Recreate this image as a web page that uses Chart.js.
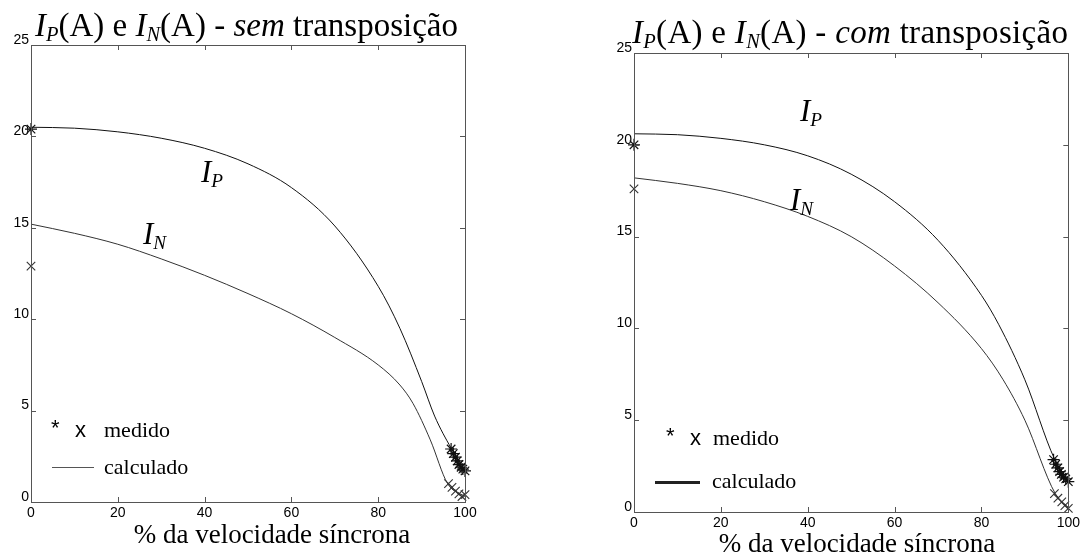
<!DOCTYPE html>
<html>
<head>
<meta charset="utf-8">
<script src="https://cdn.jsdelivr.net/npm/chart.js@4/dist/chart.umd.min.js"></script>
<style>
  html, body { margin: 0; padding: 0; background: #fff; }
  #wrap { position: relative; width: 1083px; height: 557px; overflow: hidden; background: #fff; }
  canvas { position: absolute; top: 0; }
  .t { position: absolute; font-family: "Liberation Serif", "DejaVu Serif", serif; color: #000; white-space: nowrap; line-height: 1; }
  .t sub { font-size: 62%; vertical-align: -0.25em; line-height: 0; }
  .ttl { font-size: 33px; }
  .ttl2 { font-size: 33px; letter-spacing: 0.3px; }
  .lbl { font-size: 31px; font-style: italic; }
  .leg { font-size: 22px; }
  .sym { position: absolute; font-family: "Liberation Sans", Arial, sans-serif; font-size: 22px; color: #000; line-height: 1; }
  .xt { font-size: 27px; transform: translateX(-50%); }
  .ln { position: absolute; background: #222; }
</style>
</head>
<body>
<div id="wrap">
  <canvas id="c1" width="540" height="557" style="left:0"></canvas>
  <canvas id="c2" width="543" height="557" style="left:540px"></canvas>

  <div class="t ttl" style="left:35px; top:9px;"><i>I</i><sub><i>P</i></sub>(A) e <i>I</i><sub><i>N</i></sub>(A) - <i>sem</i> transposição</div>
  <div class="t ttl2" style="left:632px; top:16px;"><i>I</i><sub><i>P</i></sub>(A) e <i>I</i><sub><i>N</i></sub>(A) - <i>com</i> transposição</div>

  <div class="t lbl" style="left:201px; top:156px;">I<sub>P</sub></div>
  <div class="t lbl" style="left:143px; top:218px;">I<sub>N</sub></div>
  <div class="t lbl" style="left:800px; top:95px;">I<sub>P</sub></div>
  <div class="t lbl" style="left:790px; top:184px;">I<sub>N</sub></div>

  <div class="sym" style="left:51px; top:417px;">*</div>
  <div class="sym" style="left:75px; top:419px;">x</div>
  <div class="t leg" style="left:104px; top:419px;">medido</div>
  <div class="ln" style="left:52px; top:467px; width:42px; height:1px; background:#555;"></div>
  <div class="t leg" style="left:104px; top:456px;">calculado</div>

  <div class="sym" style="left:666px; top:425px;">*</div>
  <div class="sym" style="left:690px; top:427px;">x</div>
  <div class="t leg" style="left:713px; top:427px;">medido</div>
  <div class="ln" style="left:655px; top:481px; width:45px; height:3px;"></div>
  <div class="t leg" style="left:712px; top:470px;">calculado</div>

  <div class="t xt" style="left:272px; top:521px;">% da velocidade síncrona</div>
  <div class="t xt" style="left:857px; top:530px;">% da velocidade síncrona</div>
</div>
<script>
// ---- sem transposição ----
const semIpCalcX   = [0, 10, 20, 30, 40, 50, 60, 70, 80, 85, 90, 93, 96.8, 100];
const semIpCalc    = [20.5, 20.45, 20.25, 19.9, 19.35, 18.5, 17.2, 15.1, 11.8, 9.5, 6.6, 4.7, 2.95, 1.75];
const semInCalcX   = [0, 10, 20, 30, 40, 50, 60, 70, 80, 85, 88, 92, 96, 100];
const semInCalc    = [15.2, 14.7, 14.1, 13.3, 12.4, 11.4, 10.3, 9.0, 7.5, 6.4, 5.4, 3.4, 1.0, 0.3];
const semIpMeasX   = [0, 96.8, 97.3, 97.8, 98.2, 98.6, 99.1, 99.5, 100];
const semIpMeas    = [20.4, 2.9, 2.65, 2.45, 2.25, 2.05, 1.9, 1.8, 1.7];
const semInMeasX   = [0, 96.2, 97.0, 97.8, 98.6, 99.3, 100];
const semInMeas    = [12.9, 1.0, 0.8, 0.6, 0.45, 0.3, 0.4];

// ---- com transposição ----
const comIpCalcX   = [0, 10, 20, 30, 40, 50, 60, 70, 80, 84, 90, 96.8, 100];
const comIpCalc    = [20.6, 20.55, 20.35, 20.0, 19.4, 18.4, 16.9, 14.8, 11.8, 10.2, 7.2, 2.9, 1.7];
const comInCalcX   = [0, 10, 20, 30, 40, 50, 60, 70, 80, 85, 90, 97, 100];
const comInCalc    = [18.2, 17.9, 17.5, 16.9, 16.1, 15.0, 13.4, 11.4, 8.9, 7.2, 5.0, 1.0, 0.25];
const comIpMeasX   = [0, 96.6, 97.1, 97.6, 98.0, 98.4, 98.9, 99.4, 100];
const comIpMeas    = [20.0, 2.85, 2.6, 2.4, 2.2, 2.05, 1.9, 1.8, 1.65];
const comInMeasX   = [0, 96.8, 97.6, 98.5, 99.2, 100];
const comInMeas    = [17.6, 1.0, 0.75, 0.55, 0.35, 0.2];

const xTicks = [0, 20, 40, 60, 80, 100];
const yTicks = [0, 5, 10, 15, 20, 25];

const pts = (xs, ys) => xs.map((x, i) => ({ x, y: ys[i] }));

// frame box and inward tick marks drawn from the scales
const frameTicks = {
  id: 'frameTicks',
  afterDatasetsDraw(chart) {
    const { ctx, chartArea: a, scales: { x, y } } = chart;
    ctx.save();
    ctx.strokeStyle = '#555';
    ctx.lineWidth = 1;
    ctx.strokeRect(Math.round(a.left) + 0.5, Math.round(a.top) + 0.5,
                   Math.round(a.right - a.left), Math.round(a.bottom - a.top));
    const L = 5;
    ctx.beginPath();
    xTicks.forEach(v => {
      const px = Math.round(x.getPixelForValue(v)) + 0.5;
      ctx.moveTo(px, a.bottom); ctx.lineTo(px, a.bottom - L);
      ctx.moveTo(px, a.top); ctx.lineTo(px, a.top + L);
    });
    yTicks.forEach(v => {
      const py = Math.round(y.getPixelForValue(v)) + 0.5;
      ctx.moveTo(a.left, py); ctx.lineTo(a.left + L, py);
      ctx.moveTo(a.right, py); ctx.lineTo(a.right - L, py);
    });
    ctx.stroke();
    ctx.restore();
  }
};

function makeChart(id, pad, ipC, inC, ipM, inM, lineW) {
  const tickFont = { family: "'Liberation Sans', Arial, sans-serif", size: 14 };
  return new Chart(document.getElementById(id), {
    type: 'line',
    data: {
      datasets: [
        { data: ipC, borderColor: '#111', borderWidth: lineW, pointRadius: 0, tension: 0.35, cubicInterpolationMode: 'monotone' },
        { data: inC, borderColor: '#333', borderWidth: lineW, pointRadius: 0, tension: 0.35, cubicInterpolationMode: 'monotone' },
        { data: ipM, showLine: false, pointStyle: 'star', pointRadius: 6, borderColor: '#111', borderWidth: 1.2, backgroundColor: '#111' },
        { data: inM, showLine: false, pointStyle: 'crossRot', pointRadius: 6, borderColor: '#333', borderWidth: 1.1, backgroundColor: '#333' }
      ]
    },
    options: {
      responsive: false,
      animation: false,
      devicePixelRatio: 1,
      clip: false,
      layout: { padding: pad },
      plugins: { legend: { display: false }, tooltip: { enabled: false }, title: { display: false } },
      scales: {
        x: {
          type: 'linear', min: 0, max: 100,
          afterBuildTicks: s => { s.ticks = xTicks.map(v => ({ value: v })); },
          afterFit: s => { s.height = 30; },
          grid: { display: false, drawTicks: false },
          border: { display: false },
          ticks: { font: tickFont, color: '#000', padding: 3, maxRotation: 0 }
        },
        y: {
          type: 'linear', min: 0, max: 25,
          afterBuildTicks: s => { s.ticks = yTicks.map(v => ({ value: v })); },
          afterFit: s => { s.width = 31; },
          grid: { display: false, drawTicks: false },
          border: { display: false },
          ticks: { font: tickFont, color: '#000', padding: 2, labelOffset: -5 }
        }
      }
    },
    plugins: [frameTicks]
  });
}

makeChart('c1', { left: 0, top: 45, right: 75, bottom: 25 },
  pts(semIpCalcX, semIpCalc), pts(semInCalcX, semInCalc),
  pts(semIpMeasX, semIpMeas), pts(semInMeasX, semInMeas), 1);

makeChart('c2', { left: 63, top: 53, right: 12, bottom: 15 },
  pts(comIpCalcX, comIpCalc), pts(comInCalcX, comInCalc),
  pts(comIpMeasX, comIpMeas), pts(comInMeasX, comInMeas), 1);
</script>
</body>
</html>
